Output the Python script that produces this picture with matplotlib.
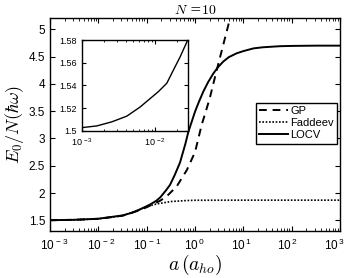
import numpy as np
import matplotlib
matplotlib.use('Agg')
import matplotlib.pyplot as plt
import matplotlib.transforms as mtransforms
from matplotlib.ticker import LogLocator, NullFormatter, FuncFormatter

plt.rcParams['font.family'] = ['Liberation Sans', 'DejaVu Sans']
plt.rcParams['mathtext.fontset'] = 'cm'

# log10(a) and E0/N
gp_loga = [-3, -2.5, -2, -1.5, -1.2, -1.0, -0.72, -0.586, -0.38, -0.17, 0.0, 0.138, 0.3, 0.44, 0.69, 0.76]
gp_e = [1.503, 1.51, 1.528, 1.585, 1.67, 1.74, 1.86, 1.94, 2.12, 2.42, 2.75, 3.25, 3.72, 4.22, 5.08, 5.35]

fad_loga = [-3, -2.5, -2, -1.5, -1.2, -1.0, -0.8, -0.5, -0.2, 0.0, 1.0, 2.0, 3.0]
fad_e = [1.503, 1.51, 1.528, 1.585, 1.68, 1.75, 1.80, 1.845, 1.862, 1.868, 1.87, 1.87, 1.87]

locv_loga = [-3, -2.5, -2, -1.5, -1.3, -1.14, -0.93, -0.8, -0.72, -0.6, -0.517, -0.42, -0.31,
             -0.2, -0.138, 0.0, 0.08, 0.172, 0.27, 0.379, 0.47, 0.586, 0.7, 0.862, 1.0,
             1.21, 1.4, 1.76, 2.0, 2.5, 3.0]
locv_e = [1.503, 1.51, 1.53, 1.59, 1.64, 1.70, 1.79, 1.86, 1.92, 2.05, 2.15, 2.33, 2.56,
          2.90, 3.12, 3.49, 3.67, 3.86, 4.03, 4.19, 4.30, 4.41, 4.49, 4.56, 4.60,
          4.65, 4.67, 4.69, 4.695, 4.70, 4.70]

inset_loga = [-3, -2.795, -2.59, -2.386, -2.205, -1.955, -1.84, -1.75, -1.66, -1.555]
inset_e = [1.5029, 1.5044, 1.508, 1.513, 1.521, 1.5346, 1.542, 1.5536, 1.565, 1.58]

fmt = FuncFormatter(lambda v, p: r'$\mathregular{10^{\,%d}}$' % int(round(np.log10(v))))

fig = plt.figure(figsize=(3.47, 2.78), dpi=100)
ax = fig.add_axes([0.144, 0.170, 0.836, 0.764])

ax.plot(10**np.array(gp_loga), gp_e, 'k--', lw=1.4, dashes=(4, 3), label='GP')
ax.plot(10**np.array(fad_loga), fad_e, 'k:', lw=1.2, dashes=(1, 1), label='Faddeev')
ax.plot(10**np.array(locv_loga), locv_e, 'k-', lw=1.4, label='LOCV')

ax.set_xscale('log')
ax.set_xlim(1e-3, 1e3)
ax.set_ylim(1.31, 5.2)
ax.set_yticks([1.5, 2, 2.5, 3, 3.5, 4, 4.5, 5])
ax.set_yticklabels(['1.5', '2', '2.5', '3', '3.5', '4', '4.5', '5'])
ax.xaxis.set_major_locator(LogLocator(base=10, numticks=10))
ax.xaxis.set_minor_locator(LogLocator(base=10, subs=np.arange(2, 10), numticks=20))
ax.xaxis.set_major_formatter(fmt)
ax.xaxis.set_minor_formatter(NullFormatter())
ax.tick_params(which='both', direction='in', top=True, right=True, labelsize=8.5)
ax.tick_params(which='major', length=3.5)
ax.tick_params(which='minor', length=2)
ax.tick_params(axis='x', pad=5)
for s in ax.spines.values():
    s.set_linewidth(1.0)

ax.set_xlabel(r'$a\,(a_{ho})$', fontsize=14, labelpad=0)
ax.set_ylabel(r'$E_0/N(\hbar\omega)$', fontsize=13, labelpad=2)
ax.set_title(r'$N$ =$10$', fontsize=10, pad=3, family='DejaVu Serif')

leg = ax.legend(loc='lower right', bbox_to_anchor=(0.99, 0.41), fontsize=8,
                handlelength=2.6, handletextpad=0.2, borderpad=0.3,
                labelspacing=0.2, fancybox=False, framealpha=1, borderaxespad=0)
leg.get_frame().set_edgecolor('k')
leg.get_frame().set_linewidth(1.0)

axi = fig.add_axes([0.2355, 0.529, 0.3055, 0.327])
axi.plot(10**np.array(inset_loga), inset_e, 'k-', lw=1.0)
axi.set_xscale('log')
axi.set_xlim(1e-3, 10**-1.555)
axi.set_ylim(1.5, 1.58)
axi.set_yticks([1.5, 1.52, 1.54, 1.56, 1.58])
axi.set_yticklabels(['1.5', '1.52', '1.54', '1.56', '1.58'])
axi.xaxis.set_major_locator(LogLocator(base=10, numticks=10))
axi.xaxis.set_minor_locator(LogLocator(base=10, subs=np.arange(2, 10), numticks=20))
axi.xaxis.set_major_formatter(fmt)
axi.xaxis.set_minor_formatter(NullFormatter())
axi.tick_params(which='both', direction='in', top=True, right=True, labelsize=6.5)
axi.tick_params(which='major', length=3)
axi.tick_params(which='minor', length=1.5)
axi.tick_params(axis='x', pad=4)
for s in axi.spines.values():
    s.set_linewidth(1.0)

# the x labels sit a bit off their ticks, as in the original
fig.canvas.draw()
for t in ax.xaxis.get_major_ticks():
    i = np.log10(t.get_loc()) + 3
    dx = (4 - 1.63 * i) / 100.
    t.label1.set_transform(t.label1.get_transform() +
                           mtransforms.ScaledTranslation(dx, 0, fig.dpi_scale_trans))

fig.savefig('out.png', dpi=100)
